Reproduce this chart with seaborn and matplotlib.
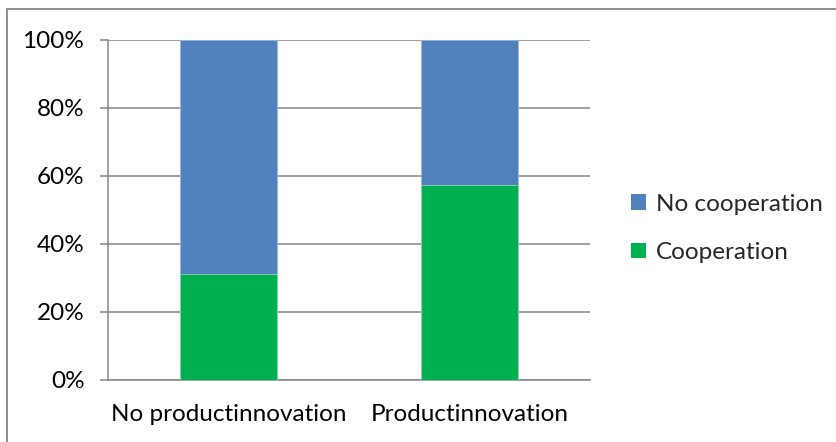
import matplotlib
matplotlib.use("Agg")
import matplotlib.pyplot as plt
import seaborn as sns
import pandas as pd
from matplotlib.patches import Rectangle
from matplotlib.ticker import FixedLocator, PercentFormatter

categories = ["No productinnovation", "Productinnovation"]
cooperation = [31.3, 57.3]
no_cooperation = [68.7, 42.7]
series_names = ["No cooperation", "Cooperation"]
colors = ["#4F81BD", "#00B050"]

sns.set_theme(style="white")
plt.rcParams["font.family"] = ["Lato", "DejaVu Sans"]

totals = [c + n for c, n in zip(cooperation, no_cooperation)]
df_top = pd.DataFrame({"cat": categories, "val": totals})
df_bot = pd.DataFrame({"cat": categories, "val": cooperation})

fig = plt.figure(figsize=(8.37, 4.42), dpi=100)
W, H = 837, 442
ax = fig.add_axes([108 / W, (H - 380) / H, (590 - 108) / W, (380 - 40) / H])

sns.barplot(data=df_top, x="cat", y="val", color=colors[0], width=0.4,
            ax=ax, label=series_names[0], zorder=3, saturation=1, linewidth=0.6,
            edgecolor="#9DB8DC")
sns.barplot(data=df_bot, x="cat", y="val", color=colors[1], width=0.4,
            ax=ax, label=series_names[1], zorder=3, saturation=1, linewidth=0.6,
            edgecolor="#8FD9AD")

ax.set_xlim(-0.5, 1.5)
ax.set_ylim(0, 100)
ax.set_xlabel("")
ax.set_ylabel("")
ax.yaxis.set_major_locator(FixedLocator([0, 20, 40, 60, 80, 100]))
ax.yaxis.set_major_formatter(PercentFormatter(decimals=0))
ax.grid(axis="y", color="#868686", linewidth=1.1, zorder=0)
ax.set_axisbelow(True)

for s in ["top", "right"]:
    ax.spines[s].set_visible(False)
for s in ["left", "bottom"]:
    ax.spines[s].set_color("#868686")
    ax.spines[s].set_linewidth(1.1)

FS = 17.5
ax.xaxis.set_minor_locator(FixedLocator([-0.5, 0.5, 1.5]))
ax.tick_params(axis="x", which="major", length=0, pad=17, labelsize=FS, labelcolor="black")
ax.tick_params(axis="x", which="minor", length=6, width=1.1, color="#868686", direction="out")
ax.tick_params(axis="y", which="major", length=6, width=1.1, color="#868686", direction="out",
               left=True, pad=11, labelsize=FS, labelcolor="black")

handles, labels = ax.get_legend_handles_labels()
leg = ax.legend(handles, labels, loc="center left", bbox_to_anchor=(1.086, 0.446),
                frameon=False, fontsize=FS, handlelength=0.6, handleheight=0.6,
                handletextpad=0.4, labelspacing=1.12, borderaxespad=0, borderpad=0)
for h in leg.legend_handles:
    h.set_edgecolor("none")

fig.add_artist(Rectangle((7 / W, -0.1), 1.2, (H - 9) / H + 0.1, transform=fig.transFigure,
                         fill=False, edgecolor="#868686", linewidth=1.3))

fig.savefig("out.png", dpi=100)
